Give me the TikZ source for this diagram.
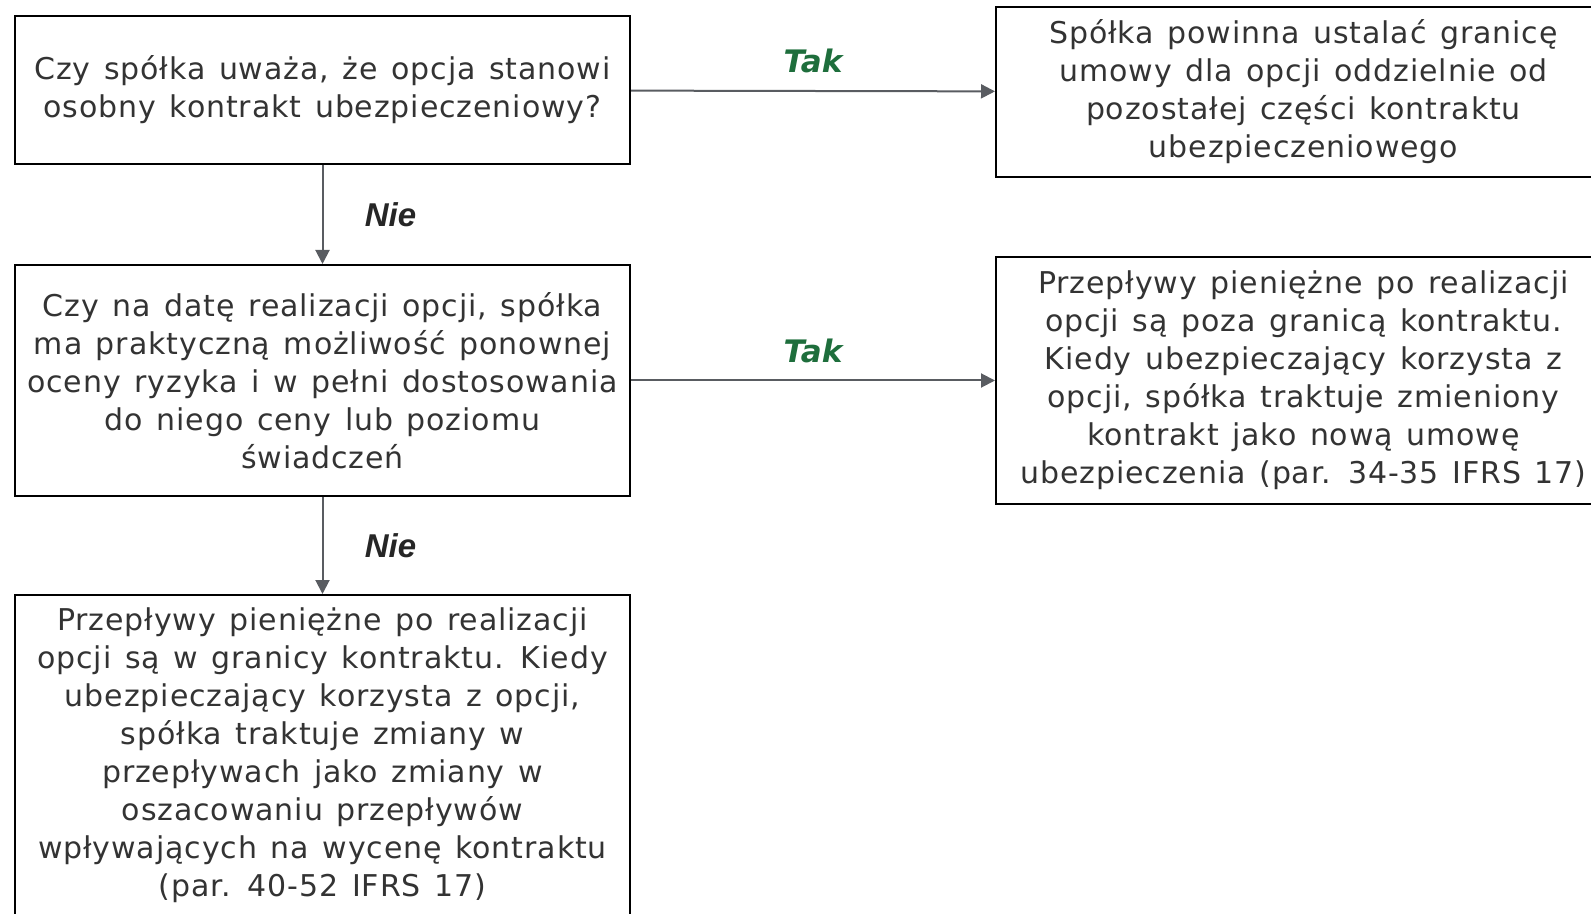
\documentclass[tikz,border=0pt]{standalone}
\usepackage{fontspec}
\setmainfont{DejaVu Sans}
\newfontfamily\boxfont[LetterSpace=3, WordSpace=1.3]{DejaVu Sans}
\newfontfamily\arialfont{Liberation Sans}
\usepackage{tikz}
\usetikzlibrary{arrows.meta}

\definecolor{textgray}{HTML}{333333}
\definecolor{arrowgray}{HTML}{595C61}
\definecolor{takgreen}{HTML}{1E6E3C}

\begin{document}
\begin{tikzpicture}[x=0.5pt, y=-0.5pt]
    % Styles
    \tikzstyle{box} = [rectangle, draw=black, line width=1pt, minimum width=307.5pt, align=center, text=textgray, inner sep=2pt, font=\boxfont\fontsize{15pt}{19pt}\selectfont]
    \tikzstyle{arrow} = [-{Triangle[length=7pt, width=7pt]}, draw=arrowgray, line width=1pt]
    \tikzstyle{taklabel} = [midway, yshift=15pt, text=takgreen, font=\fontsize{15.5pt}{18pt}\selectfont\bfseries\itshape]
    \tikzstyle{nielabel} = [midway, xshift=34pt, text=black!85, font=\arialfont\fontsize{16.5pt}{18pt}\selectfont\bfseries\itshape]

    \clip (0, 0) rectangle (1591, 914);

    % Nodes
    \node[box, minimum height=74pt] (Q1) at (322.5, 90) {Czy spółka uważa, że opcja stanowi\\osobny kontrakt ubezpieczeniowy?};
    \node[box, minimum height=85pt] (R1) at (1303.5, 92) {Spółka  powinna ustalać granicę\\umowy dla opcji oddzielnie od\\pozostałej części kontraktu\\ubezpieczeniowego};
    \node[box, minimum height=115.5pt] (Q2) at (322.5, 380.5) {Czy na datę realizacji opcji, spółka\\ma praktyczną możliwość ponownej\\oceny ryzyka i w pełni dostosowania\\do niego ceny lub poziomu\\świadczeń};
    \node[box, minimum height=123.5pt] (R2) at (1303.5, 380.5) {Przepływy  pieniężne po realizacji\\opcji są poza granicą kontraktu.\\Kiedy ubezpieczający korzysta z\\opcji, spółka traktuje zmieniony\\kontrakt jako nową umowę\\ubezpieczenia (par. 34-35 IFRS 17)};
    \node[box, minimum height=160.5pt] (R3) at (322.5, 755.5) {Przepływy  pieniężne po realizacji\\opcji są w granicy kontraktu. Kiedy\\ubezpieczający korzysta z opcji,\\spółka traktuje zmiany w\\przepływach jako zmiany w\\oszacowaniu przepływów\\wpływających na wycenę kontraktu\\(par. 40-52 IFRS 17)};

    % Arrows
    \draw[arrow] (Q1) -- node[taklabel] {Tak} (R1);
    \draw[arrow] (Q1) -- node[nielabel] {Nie} (Q2);
    \draw[arrow] (Q2) -- node[taklabel] {Tak} (R2);
    \draw[arrow] (Q2) -- node[nielabel] {Nie} (R3);
\end{tikzpicture}
\end{document}
